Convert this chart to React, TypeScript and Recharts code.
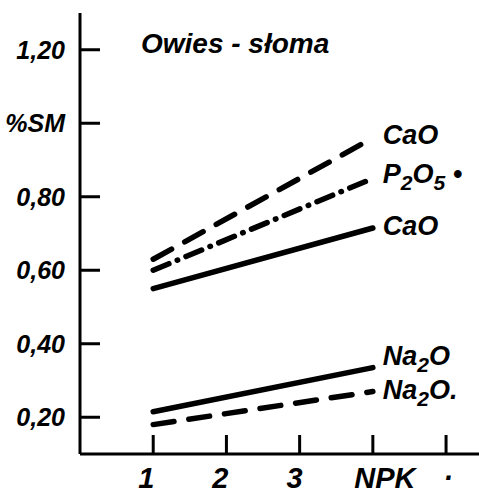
import React from 'react';
import { LineChart, Line, XAxis, YAxis } from 'recharts';

// x positions: 1, 2, 3, NPK (=4); the lines run from treatment 1 to NPK
const xs = [1, 4];
const caoDashed = [0.63, 0.96];
const p2o5 = [0.6, 0.85];
const caoSolid = [0.55, 0.715];
const na2oSolid = [0.215, 0.335];
const na2oDashed = [0.18, 0.27];

const yTicks = [0.2, 0.4, 0.6, 0.8, 1.0, 1.2];
const yTickLabels = ['0,20', '0,40', '0,60', '0,80', '%SM', '1,20'];
const xTicks = [1, 2, 3, 4, 5];
const xTickLabels = ['1', '2', '3', 'NPK', '·'];

const data = xs.map((x, i) => ({
  x,
  caoDashed: caoDashed[i],
  p2o5: p2o5[i],
  caoSolid: caoSolid[i],
  na2oSolid: na2oSolid[i],
  na2oDashed: na2oDashed[i],
}));

const font = "'Liberation Sans', Arial, sans-serif";
const xLabelDx = [-7, -6, -5, 12, 2];

const YTick = (props: any) => {
  const { x, y, index } = props;
  return (
    <g>
      <line x1={x} y1={y} x2={x + 20} y2={y} stroke="#000" strokeWidth={3} />
      <text x={x - 15} y={y + 9} textAnchor="end" fontFamily={font} fontStyle="italic"
        fontWeight="bold" fontSize={25} fill="#000">
        {yTickLabels[index]}
      </text>
    </g>
  );
};

const XTick = (props: any) => {
  const { x, y, index } = props;
  return (
    <g>
      <line x1={x} y1={y} x2={x} y2={y - 19} stroke="#000" strokeWidth={3} />
      <text x={x + xLabelDx[index]} y={y + 34} textAnchor="middle" fontFamily={font}
        fontStyle="italic" fontWeight="bold" fontSize={29} fill="#000">
        {xTickLabels[index]}
      </text>
    </g>
  );
};

const endLabel = (parts: React.ReactNode, dy: number) => (props: any) => {
  const { x, y, index } = props;
  if (index !== xs.length - 1) return null;
  return (
    <text x={x + 10} y={y + dy} fontFamily={font} fontStyle="italic" fontWeight="bold"
      fontSize={27} fill="#000">
      {parts}
    </text>
  );
};

const sub = (t: string) => (
  <tspan fontSize={21} dy={7}>{t}</tspan>
);
const up = (t: string) => <tspan dy={-7}>{t}</tspan>;

export default function App() {
  return (
    <div style={{ position: 'absolute', left: 0, top: 0, width: 479, height: 498, background: '#fff' }}>
      <div style={{
        position: 'absolute', left: 141, top: 28, fontFamily: font, fontStyle: 'italic',
        fontWeight: 'bold', fontSize: 28, color: '#000', whiteSpace: 'nowrap', lineHeight: '32px',
      }}>
        Owies - słoma
      </div>
      <LineChart width={479} height={498} data={data} margin={{ top: 13, right: 0, left: 0, bottom: 0 }}>
        <XAxis dataKey="x" type="number" domain={[0, 5.45]} ticks={xTicks} height={44}
          axisLine={{ stroke: '#000', strokeWidth: 3 }} tickLine={false} tickSize={0} tickMargin={0}
          tick={<XTick />} interval={0} />
        <YAxis type="number" domain={[0.1, 1.3]} ticks={yTicks} width={80} allowDataOverflow
          axisLine={{ stroke: '#000', strokeWidth: 3 }} tickLine={false} tickSize={0} tickMargin={0}
          tick={<YTick />} interval={0} />
        <Line dataKey="caoDashed" stroke="#000" strokeWidth={5.5} strokeDasharray="21 15"
          strokeLinecap="round" dot={false} isAnimationActive={false}
          label={endLabel(<>CaO</>, 6)} />
        <Line dataKey="p2o5" stroke="#000" strokeWidth={5.5} strokeDasharray="17 9 0.5 9"
          strokeLinecap="round" dot={false} isAnimationActive={false}
          label={endLabel(<>P{sub('2')}{up('O')}{sub('5')}{up(' •')}</>, 5)} />
        <Line dataKey="caoSolid" stroke="#000" strokeWidth={5.5} strokeLinecap="round"
          dot={false} isAnimationActive={false} label={endLabel(<>CaO</>, 7)} />
        <Line dataKey="na2oSolid" stroke="#000" strokeWidth={5.5} strokeLinecap="round"
          dot={false} isAnimationActive={false}
          label={endLabel(<>Na{sub('2')}{up('O')}</>, -3)} />
        <Line dataKey="na2oDashed" stroke="#000" strokeWidth={5.5} strokeDasharray="21 15"
          strokeLinecap="round" dot={false} isAnimationActive={false}
          label={endLabel(<>Na{sub('2')}{up('O.')}</>, 7)} />
      </LineChart>
    </div>
  );
}
